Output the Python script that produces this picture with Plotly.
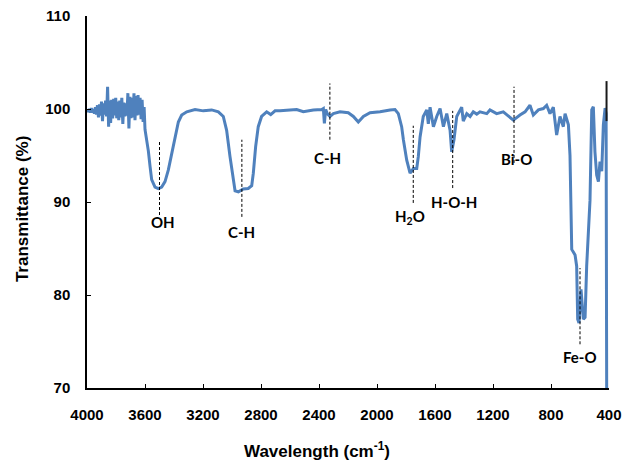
import plotly.graph_objects as go

# ---------------- data ----------------
wavenumber = [
    4000, 3998, 3991, 3984, 3977, 3970, 3963, 3956, 3949, 3942, 3935, 3928, 3921, 3914, 3907,
    3900, 3893, 3886, 3879, 3872, 3865, 3858, 3851, 3844, 3837, 3830, 3823, 3816, 3809, 3802,
    3795, 3788, 3781, 3774, 3767, 3760, 3753, 3746, 3739, 3732, 3725, 3718, 3711, 3704, 3697,
    3690, 3683, 3676, 3669, 3662, 3655, 3648, 3641, 3634, 3627, 3620, 3613, 3606, 3600,
    3588, 3577, 3565, 3554, 3531, 3508, 3485, 3462, 3439, 3416, 3393, 3370, 3347, 3312, 3255,
    3198, 3140, 3094, 3060, 3037, 3014, 2995, 2979, 2956, 2922, 2888, 2864, 2853, 2837, 2819,
    2796, 2761, 2733, 2703, 2669, 2600, 2554, 2508, 2439, 2381, 2370, 2363, 2354, 2343, 2324,
    2301, 2255, 2198, 2163, 2129, 2094, 2048, 1979, 1910, 1876, 1853, 1830, 1818, 1795, 1772,
    1749, 1726, 1715, 1703, 1692, 1681, 1657, 1646, 1634, 1611, 1588, 1565, 1542, 1519, 1496,
    1485, 1469, 1450, 1416, 1405, 1381, 1358, 1336, 1312, 1290, 1243, 1221, 1175, 1129, 1094,
    1060, 1014, 979, 945, 922, 887, 853, 830, 807, 784, 761, 738, 715, 703, 680,
    669, 662, 657, 645, 634, 623, 616, 607, 593, 577, 565, 554, 543, 531, 519,
    508, 497, 485, 473, 462, 450, 439, 427, 420, 416, 410,
]
transmittance = [
    99.8, 99.9, 99.7, 100.0, 99.6, 100.1, 99.6, 100.0, 99.5, 100.2, 99.4, 100.4, 99.1, 100.5, 99.3,
    100.8, 98.7, 100.6, 99.4, 100.9, 99.2, 102.4, 98.1, 100.9, 98.5, 101.0, 99.0, 101.1, 99.3, 101.2,
    99.0, 100.8, 98.8, 100.9, 99.1, 101.2, 98.4, 100.7, 99.2, 100.6, 99.3, 101.7, 97.9, 101.3, 99.0,
    101.2, 99.1, 101.7, 98.8, 101.4, 99.3, 101.5, 99.4, 101.2, 98.9, 101.0, 98.6, 100.2, 97.8,
    96.8, 95.5, 93.8, 92.4, 91.6, 91.45, 91.6, 92.2, 93.45, 95.2, 97.0, 98.6, 99.35, 99.7, 99.95,
    99.8, 99.9, 99.7, 99.2, 97.7, 94.9, 92.6, 91.2, 91.1, 91.4, 91.45, 91.75, 93.1, 95.95, 98.1,
    99.2, 99.7, 99.4, 99.8, 99.8, 99.9, 99.95, 99.7, 99.9, 99.95, 100.05, 98.45, 99.95, 99.5, 99.2,
    99.5, 99.7, 99.6, 99.2, 98.6, 99.2, 99.6, 99.7, 99.9, 99.95, 99.5, 98.1, 96.7, 94.5, 93.1,
    93.6, 93.6, 94.9, 97.0, 98.4, 99.2, 99.9, 98.4, 100.2, 98.1, 99.2, 100.05, 98.1, 99.5, 97.7,
    95.4, 96.7, 99.2, 100.2, 98.7, 99.5, 99.2, 99.7, 99.45, 99.7, 99.5, 99.9, 99.5, 99.7, 99.2,
    98.8, 99.35, 99.7, 100.4, 99.35, 99.9, 100.05, 100.4, 99.5, 100.2, 97.2, 99.2, 98.1, 99.5, 98.3,
    95.0, 90.2, 84.9, 84.6, 84.3, 83.1, 77.4, 77.0, 80.6, 77.4, 77.6, 83.1, 87.4, 90.2, 99.9,
    100.25, 95.4, 92.9, 92.2, 94.35, 93.3, 98.3, 100.1, 99.5, 70.0, 60.0,
]

x_ticks = [4000, 3600, 3200, 2800, 2400, 2000, 1600, 1200, 800, 400]
y_ticks = [70, 80, 90, 100, 110]

peak_labels = ["OH", "C-H", "C-H", "H<sub>2</sub>O", "H-O-H", "Bi-O", "Fe-O"]
peak_wn = [3500, 2932, 2325, 1750, 1478, 1055, 600]
peak_line_top = [96.6, 96.7, 102.75, 98.2, 99.8, 102.4, 82.9]
peak_line_bottom = [88.6, 88.4, 96.7, 89.9, 91.5, 94.2, 74.7]
peak_label_wn = [3478, 2932, 2338, 1770, 1470, 1040, 600]
peak_label_y = [87.8, 86.8, 94.7, 88.4, 90.05, 94.6, 73.3]

# short dark segment seen at the right end of the spectrum
edge_mark_wn = 417
edge_mark_range = [98.7, 103.0]

# ---------------- figure ----------------
fig = go.Figure()
fig.add_trace(go.Scatter(
    x=wavenumber, y=transmittance, mode="lines",
    line=dict(color="#4F81BD", width=3), showlegend=False, hoverinfo="skip",
))

fig.add_shape(type="line", xref="x", yref="y", x0=edge_mark_wn, x1=edge_mark_wn,
              y0=edge_mark_range[0], y1=edge_mark_range[1],
              line=dict(color="#1a1a1a", width=2))

for wn, y0, y1 in zip(peak_wn, peak_line_bottom, peak_line_top):
    fig.add_shape(type="line", xref="x", yref="y", x0=wn, x1=wn, y0=y0, y1=y1,
                  line=dict(color="black", width=1, dash="3px,2px"))

for txt, wn, y in zip(peak_labels, peak_label_wn, peak_label_y):
    fig.add_annotation(x=wn, y=y, xref="x", yref="y", text=txt, showarrow=False,
                       font=dict(family="Lato", size=15, color="black", weight="bold"),
                       xanchor="center", yanchor="middle")

fig.add_annotation(xref="paper", yref="paper", x=0.4406, y=-0.1665,
                   text="Wavelength (cm<sup>-1</sup>)", showarrow=False,
                   font=dict(family="Liberation Sans", size=17, color="black", weight="bold"),
                   xanchor="center", yanchor="middle")
fig.add_annotation(xref="paper", yref="paper", x=-0.1245, y=0.481,
                   text="Transmittance (%)", showarrow=False, textangle=-90,
                   font=dict(family="Liberation Sans", size=17, color="black", weight="bold"),
                   xanchor="center", yanchor="middle")

axis_font = dict(family="Liberation Sans", size=15, color="black", weight="bold")
fig.update_xaxes(range=[4000, 400], tickvals=x_ticks, ticktext=[str(v) for v in x_ticks],
                 showgrid=False, zeroline=False, showline=True, linecolor="black", linewidth=1.5,
                 ticks="inside", ticklen=4, tickcolor="black", tickwidth=1.2, automargin=False,
                 tickfont=axis_font, ticklabelstandoff=12, ticklabeloverflow="allow", mirror=False)
fig.update_yaxes(range=[70, 110], tickvals=y_ticks, ticktext=[str(v) for v in y_ticks],
                 showgrid=False, zeroline=False, showline=True, linecolor="black", linewidth=1.5,
                 ticks="inside", ticklen=4, tickcolor="black", tickwidth=1.2, automargin=False,
                 tickfont=axis_font, ticklabelstandoff=12, ticklabeloverflow="allow", mirror=False)

# page body has an 8px default margin, so the figure is sized to fit the window
fig.update_layout(
    width=627, height=452,
    margin=dict(l=79, r=26, t=8, b=72),
    paper_bgcolor="white", plot_bgcolor="white",
)

fig.write_html("out.html")
